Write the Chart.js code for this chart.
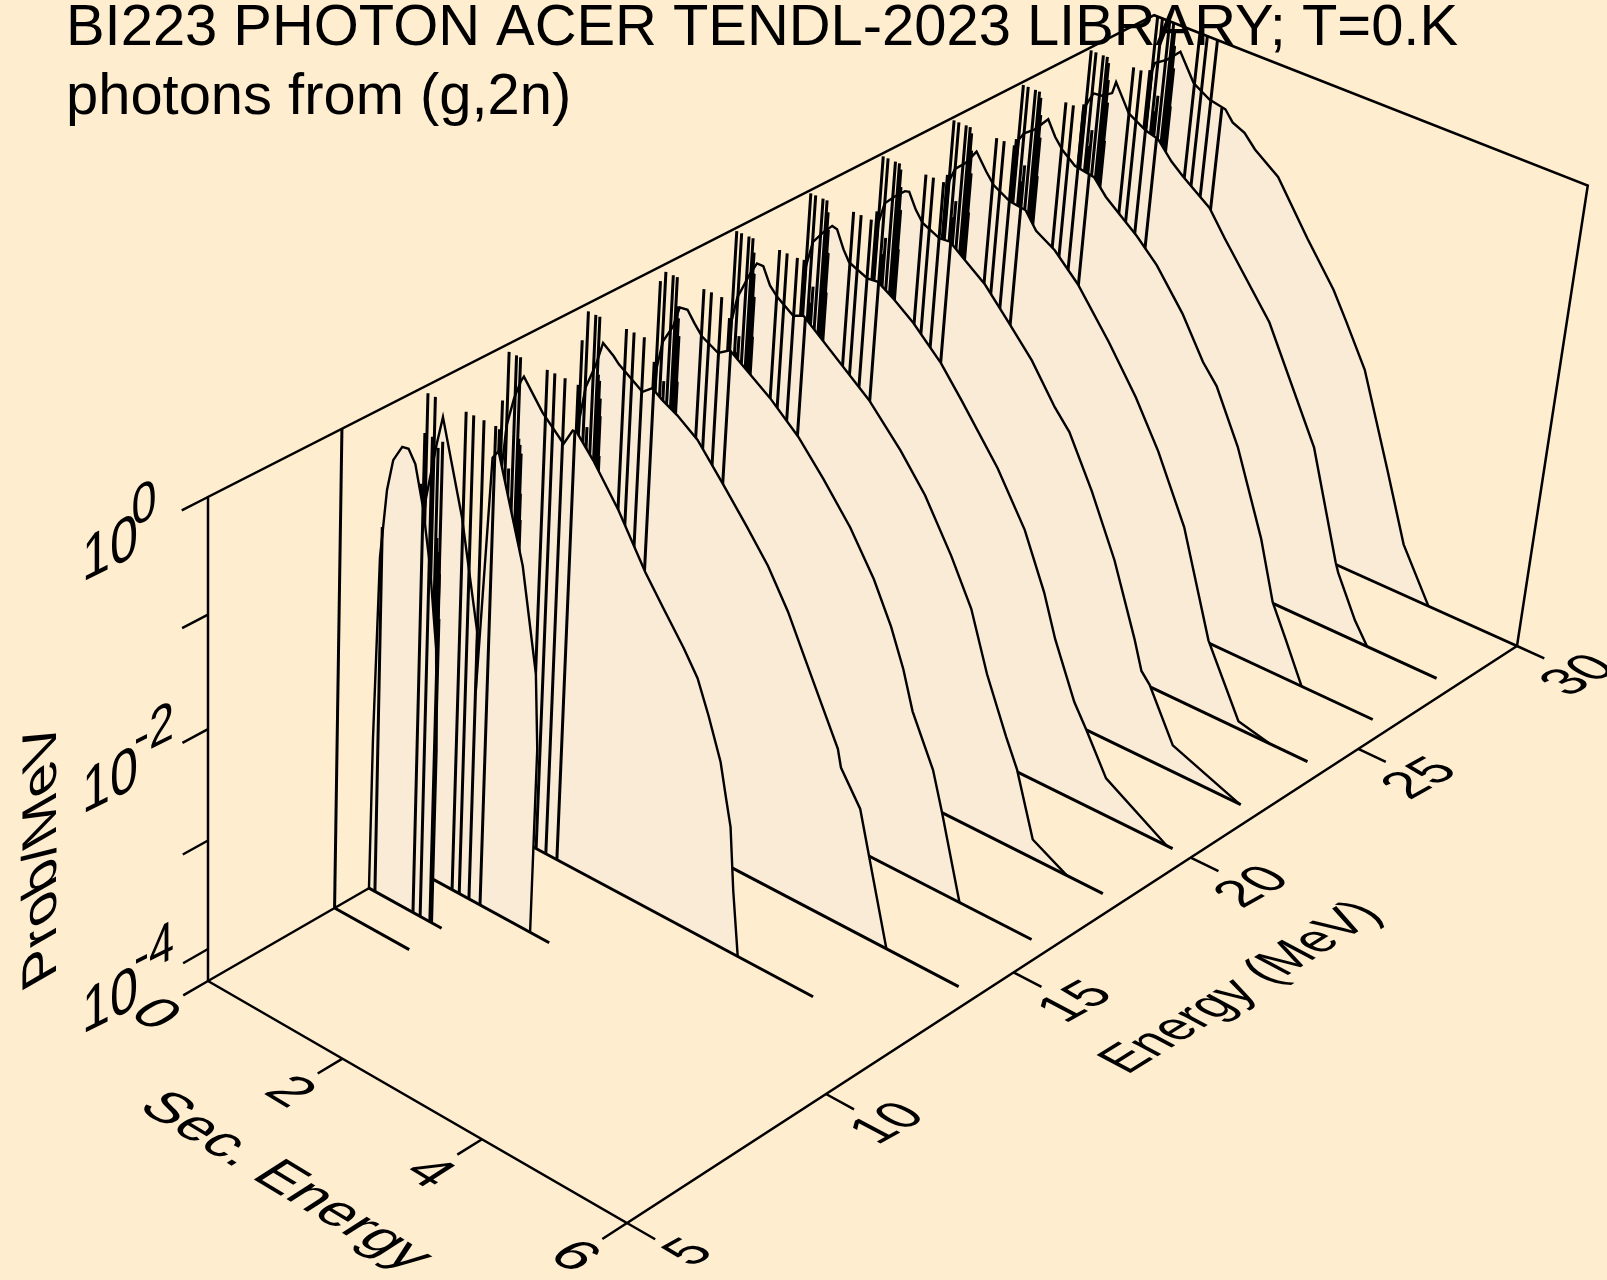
<!DOCTYPE html>
<html>
<head>
<meta charset="utf-8">
<title>BI223 photons from (g,2n)</title>
<script src="https://cdn.jsdelivr.net/npm/chart.js@4/dist/chart.umd.min.js"></script>
<style>
  html, body { margin: 0; padding: 0; background: #FFEDD0; overflow: hidden; }
  canvas { display: block; }
</style>
</head>
<body>
<canvas id="waterfall" width="1607" height="1280"></canvas>
<script>
//! DATA: secondary energy (MeV) and log10(Prob/MeV), one pair for each incident energy
var energies = [8.13, 9, 10, 12, 14, 16, 18, 20, 22, 24, 26, 28, 30];
var baseEnds = [1.12, 1.09, 2.1, 4.77, 5.75, 5.75, 5.75, 5.75, 5.75, 5.75, 5.75, 5.75, 6];

var es9 = [0, 0.016, 0.066, 0.147, 0.226, 0.35, 0.44, 0.54, 0.66, 0.78, 0.9, 0.945, 0.945];
var lp9 = [-4.3, -2.9, -1.25, -0.64, -0.36, -0.21, -0.2, -0.3, -0.63, -1.1, -1.8, -2.7, -4.3];
var es10 = [0, 0.06, 0.13, 0.26, 0.34, 0.65, 0.915, 0.92, 1.05, 1.13, 1.52, 1.76, 1.82, 1.82];
var lp10 = [-4.3, -1.4, -0.9, -0.4, -0.14, -0.92, -1.85, -2.36, -0.28, -0.2, -1.07, -1.95, -2.6, -4.3];
var es12 = [0, 0.06, 0.12, 0.21, 0.3, 0.34, 0.62, 0.93, 1.05, 1.11, 1.35, 1.73, 2.14, 2.41, 2.72, 2.93, 3.11, 3.31, 3.42, 3.5, 3.59, 3.71];
var lp12 = [-4.3, -1.1, -0.64, -0.38, -0.2, -0.15, -0.38, -0.56, -0.41, -0.41, -0.58, -0.9, -1.32, -1.55, -1.81, -2.01, -2.29, -2.64, -2.95, -3.17, -3.72, -4.3];
var es14 = [0, 0.06, 0.127, 0.26, 0.345, 0.5, 0.58, 0.925, 1.06, 1.2, 1.42, 1.72, 2.11, 2.46, 2.78, 3.09, 3.35, 3.62, 3.89, 3.95, 4.25, 4.75];
var lp14 = [-4.3, -0.95, -0.66, -0.42, -0.21, -0.28, -0.33, -0.47, -0.4, -0.46, -0.53, -0.66, -0.94, -1.2, -1.45, -1.76, -2.08, -2.41, -2.74, -2.89, -3.17, -4.3];
var es16 = [0, 0.06, 0.127, 0.26, 0.34, 0.45, 0.56, 0.67, 0.91, 1.07, 1.66, 2.08, 2.46, 2.87, 3.24, 3.52, 3.73, 3.9, 4.24, 4.41, 4.75];
var lp16 = [-4.3, -0.86, -0.61, -0.44, -0.25, -0.24, -0.33, -0.41, -0.49, -0.42, -0.67, -0.89, -1.15, -1.46, -1.81, -2.15, -2.47, -2.8, -3.23, -3.57, -4.3];
var es18 = [0, 0.05, 0.113, 0.27, 0.36, 0.45, 0.56, 0.67, 0.91, 1.05, 2.03, 2.51, 2.89, 3.31, 3.64, 3.93, 4.26, 4.45, 4.75, 5.25];
var lp18 = [-4.3, -0.8, -0.57, -0.32, -0.2, -0.2, -0.34, -0.41, -0.51, -0.47, -0.94, -1.25, -1.54, -1.96, -2.34, -2.85, -3.32, -3.57, -4.13, -4.3];
var es20 = [0, 0.05, 0.127, 0.26, 0.38, 0.45, 0.56, 0.65, 0.92, 1.07, 1.31, 1.6, 2.02, 2.34, 2.91, 3.35, 3.69, 3.9, 4.24, 4.44, 4.77, 5.67];
var lp20 = [-4.3, -0.65, -0.41, -0.29, -0.2, -0.21, -0.36, -0.45, -0.52, -0.51, -0.6, -0.73, -0.97, -1.21, -1.66, -2.09, -2.56, -2.93, -3.41, -3.61, -3.96, -4.3];
var es22 = [0, 0.05, 0.12, 0.26, 0.39, 0.45, 0.56, 0.67, 0.92, 1.07, 1.31, 1.6, 1.97, 2.33, 2.7, 2.93, 3.31, 3.71, 4.09, 4.23, 4.36, 4.76, 5.73];
var lp22 = [-4.3, -0.6, -0.4, -0.3, -0.22, -0.21, -0.34, -0.43, -0.5, -0.49, -0.6, -0.73, -0.97, -1.21, -1.53, -1.69, -2.12, -2.64, -3.26, -3.52, -3.61, -4.06, -4.3];
var es24 = [0, 0.05, 0.12, 0.26, 0.4, 0.56, 0.68, 0.92, 1.15, 1.32, 1.6, 1.96, 2.46, 2.9, 3.28, 3.74, 4.24, 4.77, 5.22];
var lp24 = [-4.3, -0.55, -0.42, -0.33, -0.19, -0.33, -0.42, -0.5, -0.52, -0.66, -0.76, -0.97, -1.36, -1.74, -2.13, -2.7, -3.62, -4.23, -4.3];
var es26 = [0, 0.05, 0.12, 0.26, 0.44, 0.56, 0.68, 0.87, 1.15, 1.34, 1.82, 2.13, 2.55, 2.9, 3.12, 3.5, 3.96, 4.22, 4.46, 4.75];
var lp26 = [-4.3, -0.5, -0.42, -0.35, -0.21, -0.34, -0.43, -0.52, -0.55, -0.68, -0.91, -1.09, -1.42, -1.77, -1.93, -2.39, -3.12, -3.65, -3.94, -4.3];
var es28 = [0, 0.05, 0.14, 0.26, 0.4, 0.44, 0.66, 0.92, 1.1, 1.32, 1.5, 1.91, 2.16, 2.9, 3.71, 4.2, 4.25, 4.56, 4.77];
var lp28 = [-4.3, -0.5, -0.37, -0.36, -0.3, -0.19, -0.42, -0.51, -0.54, -0.69, -0.78, -0.96, -1.17, -1.75, -2.7, -3.66, -3.74, -4.11, -4.3];
var es30 = [0, 0.05, 0.08, 0.24, 0.42, 0.65, 0.895, 1.13, 1.25, 1.43, 1.6, 1.96, 2.46, 2.9, 3.12, 3.46, 3.95, 4.3, 4.75];
var lp30 = [-4.3, -0.5, -0.42, -0.35, -0.23, -0.46, -0.55, -0.58, -0.67, -0.72, -0.83, -0.99, -1.43, -1.79, -2.02, -2.39, -3.22, -3.83, -4.3];

// gamma lines: same secondary energies for every curve, tops differ
var lineEs = [0.02, 0.05, 0.12, 0.15, 0.17, 0.226, 0.284, 0.30, 0.31, 0.32, 0.33, 0.34, 0.35, 0.36, 0.663, 0.77, 0.915, 1.08];
var lines10 = [-2, -0.8, 0, -1.7, -1.5, 0, -0.42, -1.2, -1.32, -1.32, -1.4, -1.4, -1.5, -1.9, 0, 0, 0, 0];
var lines12 = [-0.7, -0.44, 0, -1.2, -1, 0, 0, -0.7, -0.75, -0.75, -0.82, -0.82, -1.17, -1.4, 0, 0, 0, -0.41];
var lines14 = [-0.67, -0.27, 0, -1.2, -1, 0, 0, -0.5, -0.55, -0.55, -0.7, -0.7, -0.85, -1.2, 0, 0, 0, -0.4];
var lines16 = [-0.82, -0.1, 0, -1.1, -0.95, 0, 0, -0.25, -0.25, -0.35, -0.35, -0.5, -0.5, -0.9, 0, 0, 0, -0.42];
var lines18 = [-0.78, 0, 0, -1.05, -0.9, 0, 0, -0.12, -0.12, -0.3, -0.3, -0.5, -0.5, -0.85, 0, 0, 0, -0.47];
var lines20 = [-0.6, 0, 0, -0.95, -0.8, 0, 0, -0.1, -0.1, -0.25, -0.25, -0.45, -0.45, -0.8, 0, 0, 0, -0.51];
var lines22 = [-0.5, 0, 0, -0.85, -0.7, 0, 0, -0.05, -0.05, -0.2, -0.2, -0.4, -0.4, -0.75, 0, 0, 0, -0.49];
var lines24 = [-0.5, 0, 0, -0.85, -0.7, 0, 0, -0.05, -0.05, -0.2, -0.2, -0.4, -0.4, -0.75, 0, 0, 0, -0.52];
var lines26 = [-0.5, 0, 0, -0.85, -0.7, 0, 0, -0.05, -0.05, -0.2, -0.2, -0.4, -0.4, -0.75, 0, 0, 0, -0.55];
var lines28 = [-0.5, 0, 0, -0.85, -0.7, 0, 0, -0.05, -0.05, -0.2, -0.2, -0.4, -0.4, -0.75, 0, 0, 0, -0.54];
var lines30 = [-0.5, 0, 0, -0.85, -0.7, 0, 0, -0.05, -0.05, -0.2, -0.2, -0.4, -0.4, -0.75, 0, 0, 0, -0.58];
var lineEs9 = [0.09, 0.663, 0.77, 0.915];
var lines9 = [-0.98, 0, 0, 0];
var lineEs8 = [0];
var lines8 = [0];

var energyTicks = [5, 10, 15, 20, 25, 30];
var secTicks = [0, 2, 4, 6];
var secLabels = [2, 4, 6];
var probTicks = [-4, -3, -2, -1, 0];
var probLabels = [0, -2, -4];

var curveEs = [null, es9, es10, es12, es14, es16, es18, es20, es22, es24, es26, es28, es30];
var curveLp = [null, lp9, lp10, lp12, lp14, lp16, lp18, lp20, lp22, lp24, lp26, lp28, lp30];
var spikeTops = [lines8, lines9, lines10, lines12, lines14, lines16, lines18, lines20, lines22, lines24, lines26, lines28, lines30];

var E_MIN = 5, E_MAX = 30, ES_MAX = 6, Z_MIN = -4.3, Z_MAX = 0;

//! projection of the box: floor corners, then the vanishing point of the verticals
var A = [208, 981], D = [1108, 462], C = [1517, 646], B = [627, 1223];
var vertVP = [208, 9163], vertT = -0.05585;

var dx1 = D[0] - C[0], dx2 = B[0] - C[0], sx = A[0] - D[0] + C[0] - B[0];
var dy1 = D[1] - C[1], dy2 = B[1] - C[1], sy = A[1] - D[1] + C[1] - B[1];
var den = dx1 * dy2 - dx2 * dy1;
var hg = (sx * dy2 - dx2 * sy) / den;
var hh = (dx1 * sy - sx * dy1) / den;
var ha = D[0] - A[0] + hg * D[0], hb = B[0] - A[0] + hh * B[0];
var hd = D[1] - A[1] + hg * D[1], he = B[1] - A[1] + hh * B[1];

function project(e, s, z) {
    var u = (e - E_MIN) / (E_MAX - E_MIN);
    var v = s / ES_MAX;
    var w = (z - Z_MIN) / (Z_MAX - Z_MIN);
    var X = ha * u + hb * v + A[0] + vertT * vertVP[0] * w;
    var Y = hd * u + he * v + A[1] + vertT * vertVP[1] * w;
    var W = hg * u + hh * v + 1 + vertT * w;
    return { x: X / W, y: Y / W };
}

function pathOf(triples) {
    return triples.map(function (t) { return project(t[0], t[1], t[2]); });
}

function lineSet(points, width) {
    return {
        type: 'scatter', data: points, showLine: true, spanGaps: false, fill: false,
        borderColor: '#000', borderWidth: width, pointRadius: 0, tension: 0,
        borderJoinStyle: 'miter', borderCapStyle: 'butt'
    };
}

var datasets = [];

// back of the box first, everything else stands in front of it
datasets.push(lineSet(pathOf([
    [E_MIN, 0, Z_MIN], [E_MIN, 0, Z_MAX], [E_MAX, 0, Z_MAX], [E_MAX, ES_MAX, Z_MAX], [E_MAX, ES_MAX, Z_MIN]
]), 2.5));
datasets.push(lineSet(pathOf([[E_MIN, 0, Z_MIN], [E_MAX, 0, Z_MIN]]), 2.5));

// curves from the far one to the near one
for (var i = energies.length - 1; i >= 0; i--) {
    var e = energies[i];
    if (curveEs[i]) {
        var poly = curveEs[i].map(function (s, k) { return project(e, s, curveLp[i][k]); });
        var set = lineSet(poly, 2.4);
        set.fill = 'shape';
        set.backgroundColor = '#FAEBD7';
        datasets.push(set);
    }
    var xs = spikeTops[i] === lines9 ? lineEs9 : (spikeTops[i] === lines8 ? lineEs8 : lineEs);
    var gaps = [];
    xs.forEach(function (s, k) {
        gaps.push(project(e, s, Z_MIN), project(e, s, spikeTops[i][k]), { x: NaN, y: NaN });
    });
    datasets.push(lineSet(gaps, 3));
    datasets.push(lineSet(pathOf([[e, 0, Z_MIN], [e, baseEnds[i], Z_MIN]]), 3));
}

//! front axes and tick marks
datasets.push(lineSet(pathOf([[E_MIN, 0, Z_MIN], [E_MIN, ES_MAX, Z_MIN], [E_MAX, ES_MAX, Z_MIN]]), 2.5));
var tickMarks = [];
energyTicks.forEach(function (t) {
    tickMarks.push(project(t, ES_MAX, Z_MIN), project(t, ES_MAX + 0.38, Z_MIN), { x: NaN, y: NaN });
});
secTicks.forEach(function (t) {
    tickMarks.push(project(E_MIN, t, Z_MIN), project(E_MIN - 0.6, t, Z_MIN), { x: NaN, y: NaN });
});
probTicks.forEach(function (t) {
    tickMarks.push(project(E_MIN, 0, t), project(E_MIN - 0.6, 0, t), { x: NaN, y: NaN });
});
datasets.push(lineSet(tickMarks, 2.5));

// chart.js paints the last dataset first, so flip the list
datasets.reverse();

//! text: tilted with the planes of the box, so a plain rotation is not enough
function putText(ctx, str, cx, cy, along, up, size) {
    ctx.save();
    ctx.font = (size || 56) + 'px "Liberation Sans", Arial, sans-serif';
    ctx.textAlign = 'center';
    ctx.textBaseline = 'middle';
    ctx.fillStyle = '#000';
    ctx.transform(along[0], along[1], -up[0], -up[1], cx, cy);
    ctx.fillText(str, 0, 0);
    ctx.restore();
}

var textPlugin = {
    id: 'boxText',
    afterDatasetsDraw: function (chart) {
        var ctx = chart.ctx;
        ctx.save();
        ctx.font = '57.9px "Liberation Sans", Arial, sans-serif';
        ctx.fillStyle = '#000';
        ctx.textAlign = 'left';
        ctx.textBaseline = 'alphabetic';
        ctx.fillText('BI223 PHOTON ACER TENDL-2023 LIBRARY; T=0.K', 66, 45);
        ctx.fillText('photons from (g,2n)', 66, 114);
        ctx.restore();

        var eAlong = [0.82, -0.46], eUp = [-0.88, -0.47];
        var sAlong = [0.89, 0.54], sUp = [0.84, -0.54];
        var zAlong = [0.9, -0.45], zUp = [0, -1.12];

        energyTicks.forEach(function (t) {
            var p = project(t, ES_MAX, Z_MIN);
            putText(ctx, String(t), p.x + 63, p.y + 30, eAlong, eUp);
        });
        [0].concat(secLabels).forEach(function (t) {
            var p = project(E_MIN, t, Z_MIN);
            putText(ctx, String(t), p.x - 54, p.y + 34, sAlong, sUp);
        });
        probLabels.forEach(function (t) {
            var p = project(E_MIN, 0, t);
            putText(ctx, '10', p.x - 98, p.y + 54, zAlong, zUp);
            // the lone 0 sits closer in than the signed exponents
            var shift = t === 0 ? [-10, 6] : [0, 0];
            putText(ctx, String(t), p.x - 54 + shift[0], p.y + 3 + shift[1], zAlong, zUp, 50);
        });
        putText(ctx, 'Sec. Energy', 285, 1182, sAlong, sUp);
        putText(ctx, 'Energy (MeV)', 1242, 988, [0.745, -0.463], eUp);
        putText(ctx, 'Prob/MeV', 43, 854, [0, -1.04], [-0.87, 0.5]);
    }
};

new Chart(document.getElementById('waterfall'), {
    type: 'scatter',
    data: { datasets: datasets },
    options: {
        responsive: false,
        animation: false,
        devicePixelRatio: 1,
        layout: { padding: 0 },
        plugins: { legend: { display: false }, title: { display: false }, tooltip: { enabled: false } },
        scales: {
            x: { type: 'linear', min: 0, max: 1607, display: false },
            y: { type: 'linear', min: 0, max: 1280, reverse: true, display: false }
        }
    },
    plugins: [textPlugin]
});
</script>
</body>
</html>
